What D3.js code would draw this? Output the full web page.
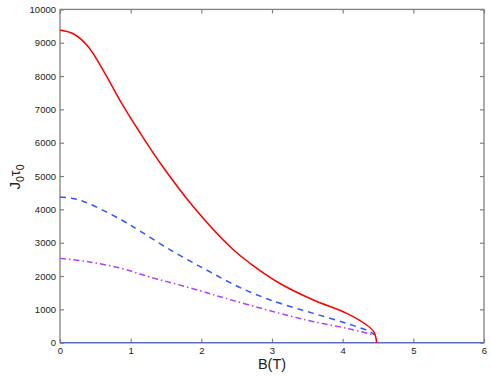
<!DOCTYPE html>
<html>
<head>
<meta charset="utf-8">
<script src="https://d3js.org/d3.v7.min.js"></script>
<style>
  body { margin: 0; background: #fff; }
  svg text { font-family: "Liberation Sans", Arial, Helvetica, sans-serif; fill: #222; }
</style>
</head>
<body>
<div id="chart"></div>
<script>
// values
var redX = [0, 0.2, 0.4, 0.637, 0.873, 1.108, 1.415, 1.887, 2.43, 2.689, 3.113, 3.585, 4.057, 4.34, 4.44, 4.47, 4.48]
var redY = [9380, 9255, 8880, 8076, 7182, 6381, 5400, 4080, 2832, 2382, 1776, 1281, 882, 531, 330, 150, 0]

var blueX = [0, 0.2, 0.4, 0.873, 1.132, 1.604, 2.075, 2.523, 2.877, 3.113, 3.585, 4.057, 4.387, 4.45]
var blueY = [4370, 4320, 4180, 3681, 3350, 2730, 2181, 1680, 1360, 1182, 880, 580, 330, 240]

var purpleX = [0, 0.4, 0.87, 1.132, 1.34, 1.604, 2.075, 2.264, 3.11, 3.59, 4.06, 4.39, 4.45]
var purpleY = [2530, 2430, 2230, 2060, 1930, 1782, 1500, 1380, 880, 630, 430, 260, 220]

var xTicks = [0, 1, 2, 3, 4, 5, 6]
var yTicks = [0, 1000, 2000, 3000, 4000, 5000, 6000, 7000, 8000, 9000, 10000]

var width = 491, height = 376
var margin = {top: 9.4, right: 7, bottom: 33.3, left: 60}

var svg = d3.select('#chart')
    .append('svg')
    .attr('width', width)
    .attr('height', height)

var xScale = d3.scaleLinear().domain([0, 6]).range([margin.left, width - margin.right])
var yScale = d3.scaleLinear().domain([0, 10000]).range([height - margin.bottom, margin.top])

var axisColor = '#808080'

// box
svg.append('rect')
    .attr('x', xScale(0))
    .attr('y', yScale(10000))
    .attr('width', xScale(6) - xScale(0))
    .attr('height', yScale(0) - yScale(10000))
    .attr('fill', 'none')
    .attr('stroke', axisColor)
    .attr('stroke-width', 1.3)

function styleAxis(g) {
    g.select('.domain').remove()
    g.selectAll('.tick line').attr('stroke', axisColor).attr('stroke-width', 1.2)
    g.selectAll('.tick text').style('font-size', '9.5px').attr('fill', '#222')
}

// bottom axis, ticks pointing inward
svg.append('g')
    .attr('transform', 'translate(0,' + yScale(0) + ')')
    .call(d3.axisBottom(xScale).tickValues(xTicks).tickSize(-4).tickPadding(5).tickFormat(d3.format('d')))
    .call(styleAxis)

// top ticks
svg.append('g')
    .attr('transform', 'translate(0,' + yScale(10000) + ')')
    .call(d3.axisTop(xScale).tickValues(xTicks).tickSize(-4).tickFormat(''))
    .call(styleAxis)

// left axis
svg.append('g')
    .attr('transform', 'translate(' + xScale(0) + ',0)')
    .call(d3.axisLeft(yScale).tickValues(yTicks).tickSize(-4).tickPadding(4).tickFormat(d3.format('d')))
    .call(styleAxis)

// right ticks
svg.append('g')
    .attr('transform', 'translate(' + xScale(6) + ',0)')
    .call(d3.axisRight(yScale).tickValues(yTicks).tickSize(-4).tickFormat(''))
    .call(styleAxis)

// zero line along the bottom
svg.append('line')
    .attr('x1', xScale(0)).attr('x2', xScale(6))
    .attr('y1', yScale(0)).attr('y2', yScale(0))
    .attr('stroke', '#5a6ebd')
    .attr('stroke-width', 1.3)

var lineGen = d3.line()
    .x(function(d) { return xScale(d[0]) })
    .y(function(d) { return yScale(d[1]) })
    .curve(d3.curveCatmullRom.alpha(0.5))

function plot(xs, ys, color, dash) {
    var pts = xs.map(function(x, i) { return [x, ys[i]] })
    svg.append('path')
        .attr('d', lineGen(pts))
        .attr('fill', 'none')
        .attr('stroke', color)
        .attr('stroke-width', 1.5)
        .attr('stroke-dasharray', dash)
}

plot(purpleX, purpleY, '#b040ff', '6,3,1.5,3')
plot(blueX, blueY, '#2f55ff', '6,5')
plot(redX, redY, '#ff0000', null)

// axis labels
svg.append('text')
    .attr('x', (xScale(0) + xScale(6)) / 2)
    .attr('y', 369)
    .attr('text-anchor', 'middle')
    .style('font-size', '14.5px')
    .text('B(T)')

var ylab = svg.append('text')
    .attr('transform', 'translate(20,177) rotate(-90)')
    .attr('text-anchor', 'middle')
    .style('font-size', '15px')
ylab.append('tspan').text('J')
ylab.append('tspan').attr('dy', 4).style('font-size', '10.5px').text('0')
ylab.append('tspan').attr('dy', -4).text('τ')
ylab.append('tspan').attr('dy', 4).style('font-size', '10.5px').text('0')
</script>
</body>
</html>
